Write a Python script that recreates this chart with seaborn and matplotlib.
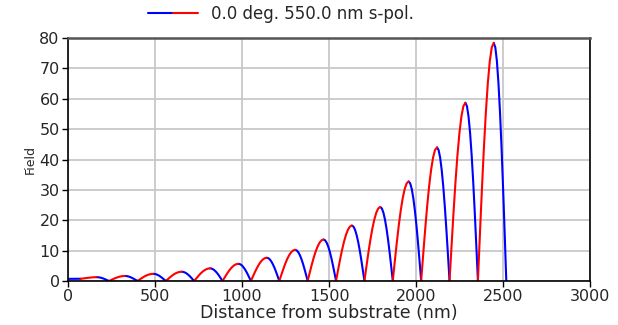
import numpy as np
import pandas as pd
import matplotlib
matplotlib.use("Agg")
import matplotlib.pyplot as plt
import seaborn as sns
from matplotlib.legend_handler import HandlerTuple

# Layer interfaces (nm): first H layer, then 15 (L, H) pairs
interfaces = [0, 73, 164, 236, 327, 399, 490, 562, 653, 725, 816, 888, 979,
              1051, 1142, 1214, 1305, 1377, 1468, 1540, 1631, 1703, 1794,
              1866, 1957, 2029, 2120, 2192, 2283, 2355, 2446, 2518]

# Field read at 9 evenly spaced points through each layer
first_layer = [0.75, 0.75, 0.76, 0.76, 0.76, 0.77, 0.77, 0.78, 0.78]
rise_red = [
    [0.78, 0.85, 0.94, 1.03, 1.11, 1.18, 1.24, 1.28, 1.3],
    [0.06, 0.36, 0.66, 0.95, 1.2, 1.41, 1.57, 1.67, 1.7],
    [0.08, 0.47, 0.92, 1.33, 1.7, 1.99, 2.22, 2.35, 2.4],
    [0.1, 0.6, 1.19, 1.72, 2.19, 2.58, 2.86, 3.04, 3.1],
    [0.1, 0.82, 1.61, 2.34, 2.97, 3.49, 3.88, 4.12, 4.2],
    [0.1, 1.11, 2.18, 3.17, 4.03, 4.74, 5.27, 5.59, 5.7],
    [0.1, 1.5, 2.95, 4.28, 5.44, 6.4, 7.11, 7.55, 7.7],
    [0.1, 2.01, 3.94, 5.73, 7.28, 8.56, 9.52, 10.1, 10.3],
    [0.1, 2.67, 5.25, 7.62, 9.69, 11.38, 12.66, 13.44, 13.7],
    [0.1, 3.57, 7.0, 10.17, 12.94, 15.21, 16.91, 17.95, 18.3],
    [0.1, 4.76, 9.35, 13.57, 17.25, 20.28, 22.55, 23.94, 24.4],
    [0.1, 6.4, 12.56, 18.24, 23.19, 27.26, 30.31, 32.18, 32.8],
    [0.1, 8.58, 16.85, 24.46, 31.11, 36.56, 40.66, 43.16, 44.0],
    [0.1, 11.45, 22.48, 32.64, 41.5, 48.78, 54.24, 57.58, 58.7],
    [0.1, 15.29, 30.03, 43.59, 55.43, 65.15, 72.44, 76.91, 78.4],
]
fall_blue = [
    [1.3, 1.28, 1.2, 1.08, 0.92, 0.72, 0.5, 0.25, 0.06],
    [1.7, 1.67, 1.57, 1.41, 1.2, 0.95, 0.66, 0.36, 0.08],
    [2.4, 2.35, 2.22, 1.99, 1.7, 1.33, 0.92, 0.47, 0.1],
    [3.1, 3.04, 2.86, 2.58, 2.19, 1.72, 1.19, 0.6, 0.1],
    [4.2, 4.12, 3.88, 3.49, 2.97, 2.34, 1.61, 0.82, 0.1],
    [5.7, 5.59, 5.27, 4.74, 4.03, 3.17, 2.18, 1.11, 0.1],
    [7.7, 7.55, 7.11, 6.4, 5.44, 4.28, 2.95, 1.5, 0.1],
    [10.3, 10.1, 9.52, 8.56, 7.28, 5.73, 3.94, 2.01, 0.1],
    [13.7, 13.44, 12.66, 11.38, 9.69, 7.62, 5.25, 2.67, 0.1],
    [18.3, 17.95, 16.91, 15.21, 12.94, 10.17, 7.0, 3.57, 0.1],
    [24.4, 23.94, 22.55, 20.28, 17.25, 13.57, 9.35, 4.76, 0.1],
    [32.8, 32.18, 30.31, 27.26, 23.19, 18.24, 12.56, 6.4, 0.1],
    [44.0, 43.16, 40.66, 36.56, 31.11, 24.46, 16.85, 8.58, 0.1],
    [58.7, 57.58, 54.24, 48.78, 41.5, 32.64, 22.48, 11.45, 0.1],
    [78.4, 76.91, 72.44, 65.15, 55.43, 43.59, 30.03, 15.29, 0.1],
]
legend_label = "0.0 deg. 550.0 nm s-pol."
x_ticks = [0, 500, 1000, 1500, 2000, 2500, 3000]
y_ticks = [0, 10, 20, 30, 40, 50, 60, 70, 80]

# Build long table: one row per sample, grouped by layer
layer_vals = [first_layer]
layer_kind = ["H"]
for r, b in zip(rise_red, fall_blue):
    layer_vals += [r, b]
    layer_kind += ["L", "H"]
rows = []
for i, (vals, kind) in enumerate(zip(layer_vals, layer_kind)):
    xs = np.linspace(interfaces[i], interfaces[i + 1], len(vals))
    for xv, yv in zip(xs, vals):
        rows.append({"x": xv, "y": yv, "layer": i, "kind": kind})
df = pd.DataFrame(rows)

sns.set_style("white")
plt.rcParams["font.family"] = ["DejaVu Sans"]

fig = plt.figure(figsize=(6.18, 3.25), dpi=100)
ax = fig.add_axes([0.110, 0.135, 0.845, 0.748])

sns.lineplot(data=df, x="x", y="y", hue="kind", units="layer", estimator=None,
             sort=False, palette={"L": "#ff0000", "H": "#0000ff"},
             linewidth=1.5, legend=False, ax=ax)

ax.set_xlim(0, 3000)
ax.set_ylim(0, 80)
ax.set_xticks(x_ticks)
ax.set_yticks(y_ticks)
ax.grid(True, color="#c8c8c8", linewidth=1.3)
ax.set_axisbelow(True)
for side in ["left", "bottom", "right"]:
    ax.spines[side].set_color("black")
    ax.spines[side].set_linewidth(1.2)
ax.spines["top"].set_color("#555555")
ax.spines["top"].set_linewidth(1.8)
ax.tick_params(axis="both", direction="out", length=4, width=1, color="black",
               labelsize=11.5, pad=2, bottom=True, left=True)
ax.set_xlabel("Distance from substrate (nm)", fontsize=12.5, labelpad=0)
ax.set_ylabel("Field", fontsize=9, labelpad=2)

blue_h = plt.Line2D([], [], color="#0000ff", lw=1.5)
red_h = plt.Line2D([], [], color="#ff0000", lw=1.5)
fig.legend([(blue_h, red_h)], [legend_label],
           handler_map={tuple: HandlerTuple(ndivide=None, pad=0)},
           loc="center", bbox_to_anchor=(0.455, 0.957), frameon=False,
           fontsize=12, handlelength=3.0, handletextpad=0.8)

fig.savefig("out.png", dpi=100)
